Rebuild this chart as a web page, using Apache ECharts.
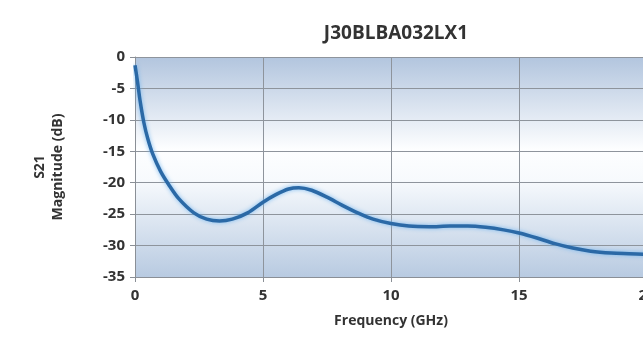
<!DOCTYPE html>
<html><head><meta charset="utf-8">
<script src="https://cdn.jsdelivr.net/npm/echarts@6/dist/echarts.min.js"></script>
<style>html,body{margin:0;padding:0;background:#fff}#c{width:643px;height:345px}</style>
</head><body><div id="c"></div>
<script>
const title = "J30BLBA032LX1";
const xName = "Frequency (GHz)";
const yName = "S21\nMagnitude (dB)";
const freqGHz = [0, 0.1, 0.2, 0.35, 0.5, 0.7, 1.0, 1.3, 1.7, 2.3, 2.8, 3.3, 3.8, 4.4, 5, 5.5, 6.0, 6.4, 6.9, 7.5, 8.1, 8.7, 9.3, 10, 10.7, 11.5, 12.3, 13, 13.7, 14.4, 15, 15.7, 16.4, 17.1, 17.8, 18.6, 19.3, 20];
const s21dB  = [-1.3, -4, -7, -10.5, -13, -15.5, -18.2, -20.2, -22.5, -24.8, -25.8, -26.1, -25.8, -24.8, -23.1, -21.9, -21.0, -20.8, -21.2, -22.3, -23.6, -24.8, -25.8, -26.5, -26.9, -27.0, -26.9, -26.9, -27.1, -27.5, -28.0, -28.8, -29.7, -30.4, -30.9, -31.2, -31.3, -31.4];

const chart = echarts.init(document.getElementById('c'), null, {renderer: 'canvas'});
const font = '"Open Sans", "DejaVu Sans", sans-serif';
chart.setOption({
  animation: false,
  backgroundColor: '#ffffff',
  title: {
    text: title, left: 391, top: 19, textAlign: 'center',
    textStyle: {fontFamily: font, fontSize: 19, fontWeight: 'bold', color: '#333'}
  },
  grid: {
    left: 135, top: 57, right: -4, bottom: 68, show: true, borderWidth: 0,
    outerBoundsMode: 'none', containLabel: false,
    backgroundColor: new echarts.graphic.LinearGradient(0, 0, 0, 1, [
      {offset: 0, color: '#b2c5de'},
      {offset: 0.42, color: '#fdfeff'},
      {offset: 0.56, color: '#f7fafd'},
      {offset: 1, color: '#b8cae1'}
    ])
  },
  xAxis: {
    type: 'value', min: 0, max: 20, interval: 5,
    name: xName, nameLocation: 'middle', nameGap: 37,
    nameTextStyle: {fontFamily: font, fontSize: 14, fontWeight: 'bold', color: '#333'},
    axisLine: {show: true, onZero: false, lineStyle: {color: '#8a8f96', width: 1}},
    axisTick: {show: true, length: 5, lineStyle: {color: '#8a8f96'}},
    axisLabel: {fontFamily: font, fontSize: 15, fontWeight: 'bold', color: '#333', margin: 11},
    splitLine: {show: true, lineStyle: {color: '#8e949c', width: 1}}
  },
  yAxis: {
    type: 'value', min: -35, max: 0, interval: 5,
    name: yName, nameLocation: 'middle', nameGap: 68, nameRotate: 90,
    nameTextStyle: {fontFamily: font, fontSize: 14, fontWeight: 'bold', color: '#333', lineHeight: 18, align: 'center'},
    axisLine: {show: true, lineStyle: {color: '#8a8f96', width: 1}},
    axisTick: {show: true, length: 5, lineStyle: {color: '#8a8f96'}},
    axisLabel: {fontFamily: font, fontSize: 15, fontWeight: 'bold', color: '#333', margin: 10},
    splitLine: {show: true, lineStyle: {color: '#8e949c', width: 1}}
  },
  series: [{
    type: 'line', smooth: 0.3, showSymbol: false,
    data: freqGHz.map((f, i) => [f, s21dB[i]]),
    lineStyle: {color: '#2b69a6', width: 3.5, shadowColor: 'rgba(110,180,240,0.9)', shadowBlur: 4},
    clip: true
  }]
});
</script></body></html>
